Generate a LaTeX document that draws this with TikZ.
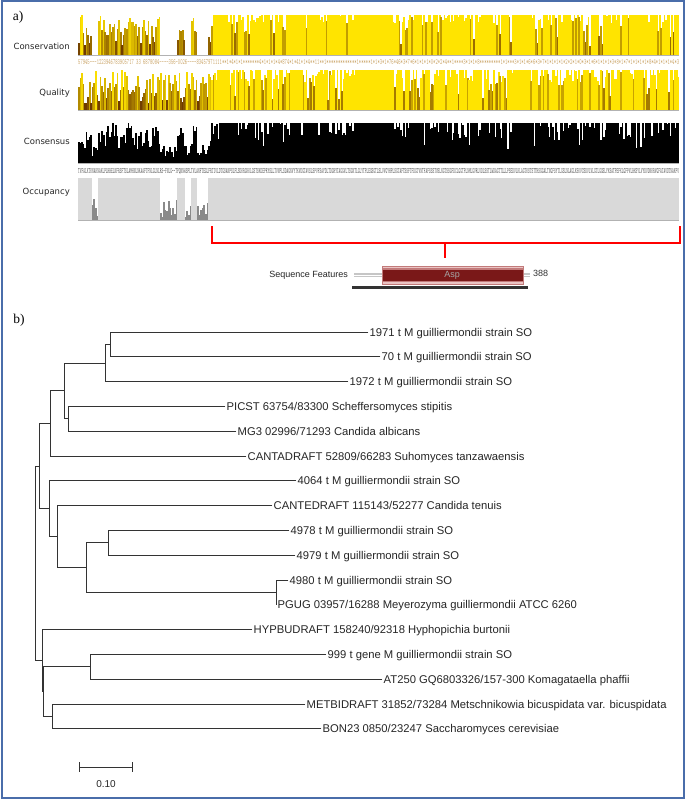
\documentclass[tikz,border=0pt]{standalone}
\usepackage{fontspec}
\setmainfont{Liberation Serif}
\newfontfamily\arialf{Liberation Sans}
\newfontfamily\dvs{DejaVu Sans}
\usepackage{graphicx}
\definecolor{frameblue}{HTML}{4A6DAA}
\definecolor{consY}{HTML}{FFE400}
\definecolor{consB}{HTML}{6E3A00}
\definecolor{occG}{HTML}{D9D9D9}
\definecolor{occD}{HTML}{8A8A8A}
\definecolor{featR}{HTML}{7A1818}
\definecolor{featP}{HTML}{EBC4C4}
\definecolor{featM}{HTML}{C27A7A}
\definecolor{tanT}{HTML}{C8A060}
\tikzset{
  leaf/.style={anchor=west, inner xsep=1.5pt, inner ysep=0pt, text height=8.1pt, text depth=0pt,
    font=\arialf\fontsize{11.25}{13}\selectfont, text=black!85},
  br/.style={draw=black!80, line width=0.9pt, line cap=rect},
  tracklabel/.style={anchor=east, inner sep=0pt, font=\dvs\fontsize{8.5}{10}\selectfont, text=black!85},
  panel/.style={inner sep=0pt, font=\fontsize{13.5}{15}\selectfont},
}
\begin{document}
\begin{tikzpicture}[x=1pt,y=-1pt]
\useasboundingbox (0,0) rectangle (685,800);
\fill[white] (0,0) rectangle (685,800);
\draw[frameblue, line width=2pt] (2,1.5) rectangle (683.5,797.5);

% panel labels
\node[panel] (pa) at (18,17) {a)};
\node[panel] (pb) at (19,320) {b)};

% track labels
\node[tracklabel] (lc) at (70,46) {Conservation};
\node[tracklabel] (lq) at (70,93) {Quality};
\node[tracklabel] (lk) at (70,141) {Consensus};
\node[tracklabel] (lo) at (70,192) {Occupancy};

% alignment annotation tracks
\pgfmathsetseed{1234}
\def\cw{1.549}
\foreach \i in {0,...,387}{%
  \pgfmathsetmacro\xa{78+\i*\cw}%
  \pgfmathsetmacro\xb{\xa+\cw+0.2}%
  \pgfmathtruncatemacro\lft{\xa<211}%
  \pgfmathtruncatemacro\gap{(\xa>91)*(\xa<98)+(\xa>159)*(\xa<177)+(\xa>184)*(\xa<190)+(\xa>196)*(\xa<208)}%
  \pgfmathtruncatemacro\blk{(\xa>355)*(\xa<390)+(\xa>512)*(\xa<528)+(\xa>218)*(\xa<226)+(\xa>290)*(\xa<300)}%
  % ---- conservation
  \ifnum\lft=1
    \ifnum\gap=1 \def\hc{0}\def\pc{0}%
    \else \pgfmathsetmacro\hc{0.2+0.8*rnd}\pgfmathtruncatemacro\pc{max(0,min(100,(\hc-0.25)*133))}%
    \fi
  \else
    \ifnum\blk=1 \def\hc{1}\def\pc{100}%
    \else
      \pgfmathsetmacro\myR{rnd}%
      \ifdim\myR pt<0.58pt \def\hc{1}\def\pc{100}%
      \else\ifdim\myR pt<0.76pt \pgfmathsetmacro\hc{0.8+0.18*rnd}\def\pc{100}%
      \else\ifdim\myR pt<0.92pt \pgfmathsetmacro\hc{0.55+0.4*rnd}\def\pc{58}%
      \else \pgfmathsetmacro\hc{0.2+0.4*rnd}\def\pc{30}%
      \fi\fi\fi
    \fi
  \fi
  \fill[consY!\pc!consB] (\xa,55) rectangle (\xb,{55-40*\hc});
  % ---- quality
  \ifnum\lft=1
    \pgfmathsetmacro\hq{0.15+0.85*rnd}\pgfmathtruncatemacro\pq{max(0,min(100,(\hq-0.2)*125))}%
  \else
    \ifnum\blk=1 \def\hq{1}\def\pq{100}%
    \else
      \pgfmathsetmacro\myR{rnd}%
      \ifdim\myR pt<0.5pt \def\hq{1}\def\pq{100}%
      \else\ifdim\myR pt<0.74pt \pgfmathsetmacro\hq{0.7+0.28*rnd}\def\pq{100}%
      \else\ifdim\myR pt<0.9pt \pgfmathsetmacro\hq{0.6+0.38*rnd}\def\pq{62}%
      \else \pgfmathsetmacro\hq{0.25+0.45*rnd}\def\pq{38}%
      \fi\fi\fi
    \fi
  \fi
  \fill[consY!\pq!consB] (\xa,110) rectangle (\xb,{110-40*\hq});
  % ---- consensus
  \ifnum\lft=1
    \ifnum\gap=1 \pgfmathsetmacro\hk{0.15+0.3*rnd}%
    \else \pgfmathsetmacro\hk{0.35+0.65*rnd}%
    \fi
  \else
    \ifnum\blk=1 \def\hk{1}%
    \else
      \pgfmathsetmacro\myR{rnd}%
      \ifdim\myR pt<0.64pt \def\hk{1}%
      \else\ifdim\myR pt<0.93pt \pgfmathsetmacro\hk{0.62+0.36*rnd}%
      \else \pgfmathsetmacro\hk{0.35+0.3*rnd}%
      \fi\fi
    \fi
  \fi
  \fill[black] (\xa,163) rectangle (\xb,{163-40*\hk});
  % ---- occupancy
  \ifnum\gap=1
    \pgfmathsetmacro\ho{0.05+0.45*rnd}%
    \fill[occD] (\xa,220) rectangle (\xb,{220-42*\ho});
  \else
    \fill[occG] (\xa,220) rectangle (\xb,178);
  \fi
}
% baselines
\draw[gray!60, line width=0.8pt] (78,55.5) -- (679,55.5);
\draw[gray!60, line width=0.8pt] (78,110.5) -- (679,110.5);
\draw[gray!60, line width=0.8pt] (78,163.5) -- (679,163.5);
\draw[gray!60, line width=0.8pt] (78,220.5) -- (679,220.5);

% tiny annotation text rows
\node[anchor=west, inner sep=0pt, text=tanT] (crow) at (78,62) {\resizebox{601pt}{5pt}{\ttfamily 57945---1223946783905717 33 6878084----356-0026----83457971111**1*4*1*1*******4*1*1*1*4*874*1*41*1*4**11**1*************1*****1*1*3*1*76*46*3*7*6*1*1*1*0*2*2*4**1****3*1*1*8*********1*1***3*1*1*6*6*3*7*1*1*1*1*2*2*1*0*3*1*6*1*1*1*3*8*1*7*1*1*1*1*8*4*1*1*1*4*3}};
\node[anchor=west, inner sep=0pt, text=black!70] (krow) at (78,171.5) {\resizebox{601pt}{5pt}{\ttfamily TVFALKTKNAKNAKLPLRRELNFRSFTSLAMHNLNKAAFTFNLGLNLRS-FNLG--TPQNNWSPLTVLANFTEGLFRTIVLDTGSANPSLFLSDKRGKKLGSTSKDEPRYSLLTVNPLSDAGNVYTKVDGTAVSLSPVFSAYDLTDGRYTAGGVLTSGNTLGLYTPLEGSGTLSLVVGYHPLSGTAFTSSFTFDGTVNTFAFSSSTVSLNGTSSGFDCLGGTPLNMLGVRLVDLSSTLWDAGTTLLLPSEDVLKLAGTKSTSTTRSGGALTNGFSYTLGSLNLAGLKSKVCSDVLVLGTLGGSLYKSATPEFKLGFPVLRKSYLVYDVDNKRVGFATAVDTNAKPV}};

% red bracket
\draw[red, line width=1.3pt] (212,226) -- (212,243) -- (680,243) -- (680,226);
\draw[red, line width=1.3pt] (445,243) -- (445,258);

% sequence features
\node[anchor=east, inner sep=0pt, font=\arialf\fontsize{9}{10}\selectfont, text=black!85] (sf) at (348,275) {Sequence Features};
\draw[gray!45, line width=4pt] (354,275) -- (382,275);
\draw[white, line width=0.8pt] (354,275) -- (382,275);
\draw[gray!45, line width=4pt] (523,275) -- (530,275);
\draw[white, line width=0.8pt] (523,275) -- (530,275);
\fill[featP] (382,266) rectangle (523,284);
\fill[featM] (382,268) rectangle (523,282);
\fill[featR] (382,270) rectangle (523,280.5);
\draw[featM, line width=0.5pt] (382,266) rectangle (523,284);
\node[inner sep=0pt, font=\arialf\fontsize{9}{10}\selectfont, text=black!35] (asp) at (452,275) {Asp};
\node[anchor=west, inner sep=0pt, font=\arialf\fontsize{9}{10}\selectfont, text=black!80] (n388) at (533,273) {388};
\fill[black!80] (352,286) rectangle (528,289);

% tree leaves
\node[leaf] (t1) at (368,332) {1971 t M guilliermondii strain SO};
\node[leaf] (t2) at (380,356.8) {70 t M guilliermondii strain SO};
\node[leaf] (t3) at (348,381.6) {1972 t M guilliermondii strain SO};
\node[leaf] (t4) at (225,406.4) {PICST 63754/83300 Scheffersomyces stipitis};
\node[leaf] (t5) at (236,431.2) {MG3 02996/71293 Candida albicans};
\node[leaf] (t6) at (246,456) {CANTADRAFT 52809/66283 Suhomyces tanzawaensis};
\node[leaf] (t7) at (296,480.8) {4064 t M guilliermondii strain SO};
\node[leaf] (t8) at (272,505.6) {CANTEDRAFT 115143/52277 Candida tenuis};
\node[leaf] (t9) at (289,530.4) {4978 t M guilliermondii strain SO};
\node[leaf] (t10) at (295,555.2) {4979 t M guilliermondii strain SO};
\node[leaf] (t11) at (288,580) {4980 t M guilliermondii strain SO};
\node[leaf] (t12) at (276,604.8) {PGUG 03957/16288 Meyerozyma guilliermondii ATCC 6260};
\node[leaf] (t13) at (252,629.6) {HYPBUDRAFT 158240/92318 Hyphopichia burtonii};
\node[leaf] (t14) at (326,654.4) {999 t gene M guilliermondii strain SO};
\node[leaf] (t15) at (382,679.2) {AT250 GQ6803326/157-300 Komagataella phaffii};
\node[leaf] (t16) at (305,704) {METBIDRAFT 31852/73284 Metschnikowia bicuspidata var. bicuspidata};
\node[leaf] (t17) at (321,728.8) {BON23 0850/23247 Saccharomyces cerevisiae};

% internal nodes
\coordinate (A) at (110,344.4);
\coordinate (B) at (105,363);
\coordinate (C) at (68,418.8);
\coordinate (D) at (64,390.9);
\coordinate (E) at (50,423.45);
\coordinate (I) at (108,542.8);
\coordinate (J) at (276,592.4);
\coordinate (H) at (86,567.6);
\coordinate (G) at (57,536.6);
\coordinate (F) at (49,508.7);
\coordinate (K) at (39,466.1);
\coordinate (M) at (90,666.8);
\coordinate (N) at (52,716.4);
\coordinate (L2) at (43.5,691.6);
\coordinate (L) at (42,660.6);
\coordinate (R) at (35,563.35);

\draw[br] (A) |- (t1.west) (A) |- (t2.west)
  (B) |- (A) (B) |- (t3.west)
  (C) |- (t4.west) (C) |- (t5.west)
  (D) |- (B) (D) |- (C)
  (E) |- (D) (E) |- (t6.west)
  (I) |- (t9.west) (I) |- (t10.west)
  (J) |- (t11.west) (J) |- (t12.west)
  (H) |- (I) (H) |- (J)
  (G) |- (t8.west) (G) |- (H)
  (F) |- (t7.west) (F) |- (G)
  (K) |- (E) (K) |- (F)
  (M) |- (t14.west) (M) |- (t15.west)
  (N) |- (t16.west) (N) |- (t17.west)
  (L2) |- (M) (L2) |- (N)
  (L) |- (t13.west) (L) |- (L2)
  (R) |- (K) (R) |- (L);

% scale bar
\coordinate (s1) at (79,767);
\coordinate (s2) at (132,767);
\draw[br] (s1) -- (s2);
\draw[br] (79,762.5) -- (79,771.5);
\draw[br] (132,762.5) -- (132,771.5);
\node[inner sep=0pt, font=\arialf\fontsize{10}{12}\selectfont, text=black!85] (sl) at (106,784) {0.10};
\end{tikzpicture}
\end{document}
